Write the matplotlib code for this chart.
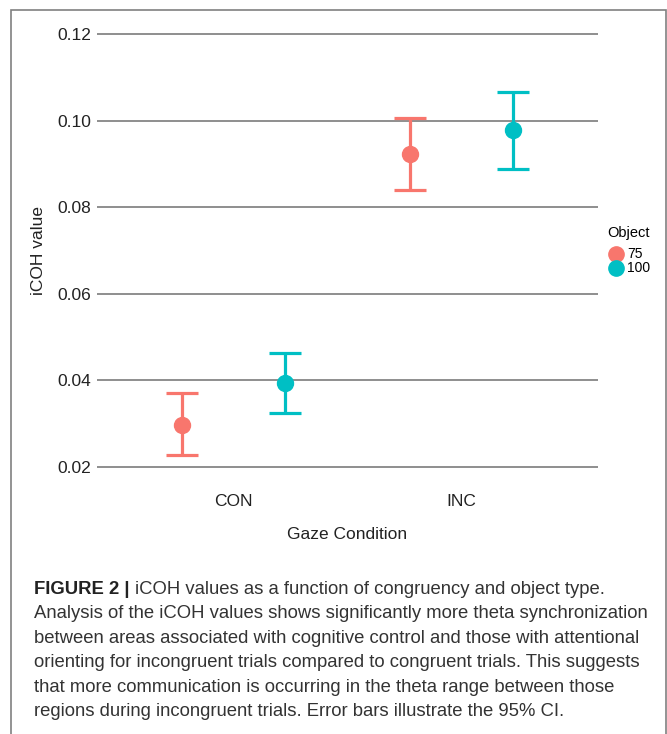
import matplotlib.pyplot as plt
from matplotlib.patches import Rectangle
import numpy as np

# values (iCOH mean and 95% CI)
conditions = ['CON', 'INC']
objects = ['75', '100']
means = {'75': [0.0297, 0.0923], '100': [0.0394, 0.0978]}
lower = {'75': [0.0228, 0.0840], '100': [0.0325, 0.0888]}
upper = {'75': [0.0371, 0.1006], '100': [0.0463, 0.1066]}
colors = {'75': '#F8766D', '100': '#00BFC4'}
yticks = [0.02, 0.04, 0.06, 0.08, 0.10, 0.12]

caption_head = 'FIGURE 2 | '
caption_lines = [
    "iCOH values as a function of congruency and object type.",
    "Analysis of the iCOH values shows significantly more theta synchronization",
    "between areas associated with cognitive control and those with attentional",
    "orienting for incongruent trials compared to congruent trials. This suggests",
    "that more communication is occurring in the theta range between those",
    "regions during incongruent trials. Error bars illustrate the 95% CI.",
]

W, H = 667, 734
plt.rcParams['font.family'] = ['Liberation Sans', 'DejaVu Sans']
fig = plt.figure(figsize=(W / 100, H / 100), dpi=100)

def px(x0, y0, x1, y1):
    # pixel box (top-left origin) -> figure fraction
    return [x0 / W, 1 - y1 / H, (x1 - x0) / W, (y1 - y0) / H]

# outer frame
fig.patches.append(Rectangle((11 / W, -0.01), (666 - 11) / W, (H - 10) / H + 0.01,
                             transform=fig.transFigure, fill=False,
                             edgecolor='#808080', lw=1.2))

ax = fig.add_axes(px(97, 24, 598, 477))
ppu = (467 - 34) / 0.1
ax.set_ylim(0.02 - 10 / ppu, 0.12 + 10 / ppu)
ax.set_xlim(0.4, 2.6)

for y in yticks:
    ax.axhline(y, color='#707070', lw=1.1, zorder=1)

xpos = np.arange(1, len(conditions) + 1)
dodge = 0.225
for i, obj in enumerate(objects):
    off = -dodge if i == 0 else dodge
    m = np.array(means[obj])
    lo = m - np.array(lower[obj])
    hi = np.array(upper[obj]) - m
    ax.errorbar(xpos + off, m, yerr=[lo, hi], fmt='none', ecolor=colors[obj],
                elinewidth=2.3, capsize=11.5, capthick=2.3, zorder=3)
    ax.plot(xpos + off, m, 'o', color=colors[obj], ms=11.5, zorder=4,
            label=obj)

for s in ax.spines.values():
    s.set_visible(False)
ax.set_yticks(yticks)
ax.set_yticklabels(['%.2f' % v for v in yticks])
ax.set_xticks(xpos)
ax.set_xticklabels(conditions)
ax.tick_params(axis='y', length=0, pad=4, labelsize=12.5, labelcolor='#222222')
ax.tick_params(axis='x', length=0, pad=12, labelsize=12.5, labelcolor='#222222')
ax.set_xlabel('Gaze Condition', fontsize=12.5, color='#222222', labelpad=13)
ax.set_ylabel('iCOH value', fontsize=12.5, color='#222222', labelpad=8)

leg = ax.legend(title='Object', loc='center left', bbox_to_anchor=(1.0, 0.499),
                frameon=False, fontsize=10, title_fontsize=10.5,
                handlelength=0.6, handletextpad=0.5, labelspacing=0.0,
                borderaxespad=0.3)
for h in leg.legend_handles:
    h.set_markersize(11)
leg._legend_box.align = 'right'
leg._legend_box.sep = 5

# caption, one text per line so the bold lead-in can sit inline
fs = 13.3
y0, dy = 594, 24.4
head = fig.text(34 / W, 1 - y0 / H, caption_head, fontsize=fs, fontweight='bold',
                color='#222222', va='baseline')
fig.canvas.draw()
hw = head.get_window_extent().width
fig.text((34 + hw) / W, 1 - y0 / H, caption_lines[0], fontsize=fs,
         color='#333333', va='baseline')
for k, line in enumerate(caption_lines[1:], start=1):
    fig.text(34 / W, 1 - (y0 + k * dy) / H, line, fontsize=fs,
             color='#333333', va='baseline')

fig.savefig('out.png', dpi=100)
